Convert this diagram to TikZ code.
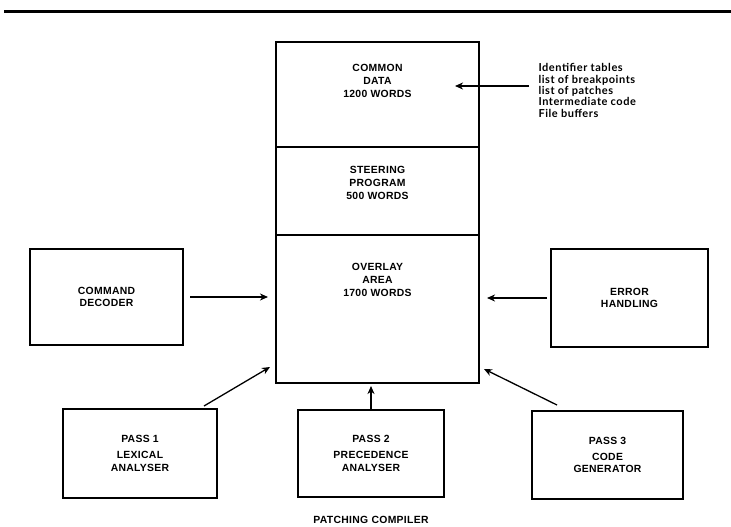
\documentclass[tikz,border=0pt]{standalone}
\usepackage{fontspec}
\setmainfont{Liberation Sans}
\newfontfamily\boxfont[LetterSpace=3]{Liberation Sans}
\newfontfamily\notefont[LetterSpace=5]{Lato}
\usetikzlibrary{positioning, arrows.meta, calc}
\newcommand\boxtext{\boxfont\bfseries\fontsize{10.4pt}{12.8pt}\selectfont}
\newcommand\notetext{\notefont\bfseries\fontsize{11pt}{11.3pt}\selectfont}

\begin{document}
\begin{tikzpicture}[x=1pt, y=-1pt,
    block/.style={draw, line width=1.4pt, outer sep=0pt, inner sep=0pt, align=center, font=\boxtext},
    lbl/.style={align=center, font=\boxtext},
    arr/.style={-{Stealth[length=8pt,width=7pt,inset=2.5pt]}, line width=1.3pt}]
    \useasboundingbox (0,0) rectangle (731,527);
    \draw[line width=3pt] (4,12) -- (731,12);

    % memory layout
    \node[block, minimum width=203pt, minimum height=105pt] (common) at (377.5,94.5) {};
    \node[block, minimum width=203pt, minimum height=88pt, below=0pt of common] (steering) {};
    \node[block, minimum width=203pt, minimum height=148pt, below=0pt of steering] (overlay) {};
    \node[lbl] (commontext) at ([yshift=-39pt]common.north) {COMMON\\DATA\\1200 WORDS};
    \node[lbl] (steeringtext) at ([yshift=-36pt]steering.north) {STEERING\\PROGRAM\\500 WORDS};
    \node[lbl] (overlaytext) at ([yshift=-45pt]overlay.north) {OVERLAY\\AREA\\1700 WORDS};

    \node[align=left, font=\notetext, right=56pt of common, yshift=4pt] (notes)
        {Identifier tables\\list of breakpoints\\list of patches\\Intermediate code\\File buffers};

    % overlays
    \node[block, minimum width=153pt, minimum height=96pt, left=93pt of overlay, yshift=12pt] (cmd) {COMMAND\\DECODER};
    \node[block, minimum width=157pt, minimum height=98pt, right=72pt of overlay, yshift=11pt] (err) {ERROR\\HANDLING};
    \node[block, minimum width=146pt, minimum height=87pt, below=27pt of overlay, xshift=-6.5pt] (pass2) {PASS 2\\[3pt]PRECEDENCE\\ANALYSER};
    \node[block, minimum width=154pt, minimum height=89pt, left=81pt of pass2] (pass1) {PASS 1\\[3pt]LEXICAL\\ANALYSER};
    \node[block, minimum width=151pt, minimum height=88pt, right=88pt of pass2, yshift=-1.5pt] (pass3) {PASS 3\\[3pt]CODE\\GENERATOR};
    \node[lbl, below=16pt of pass2] (title) {PATCHING COMPILER};

    \coordinate (datain) at (455,86);
    \draw[arr, shorten <=6pt] (notes.west |- datain) -- (datain);
    \draw[arr, shorten <=7pt, shorten >=8pt] (cmd.east) -- (cmd.east -| overlay.west);
    \draw[arr, shorten <=4pt, shorten >=8pt] (err.west) -- (err.west -| overlay.east);
    \draw[arr] ([xshift=-13pt,yshift=3pt]pass1.north east) -- ([xshift=-6pt,yshift=16pt]overlay.south west);
    \draw[arr, shorten >=3pt] (pass2.north) -- (pass2.north |- overlay.south);
    \draw[arr] ([xshift=25pt,yshift=6pt]pass3.north west) -- ([xshift=5pt,yshift=14pt]overlay.south east);
\end{tikzpicture}
\end{document}
